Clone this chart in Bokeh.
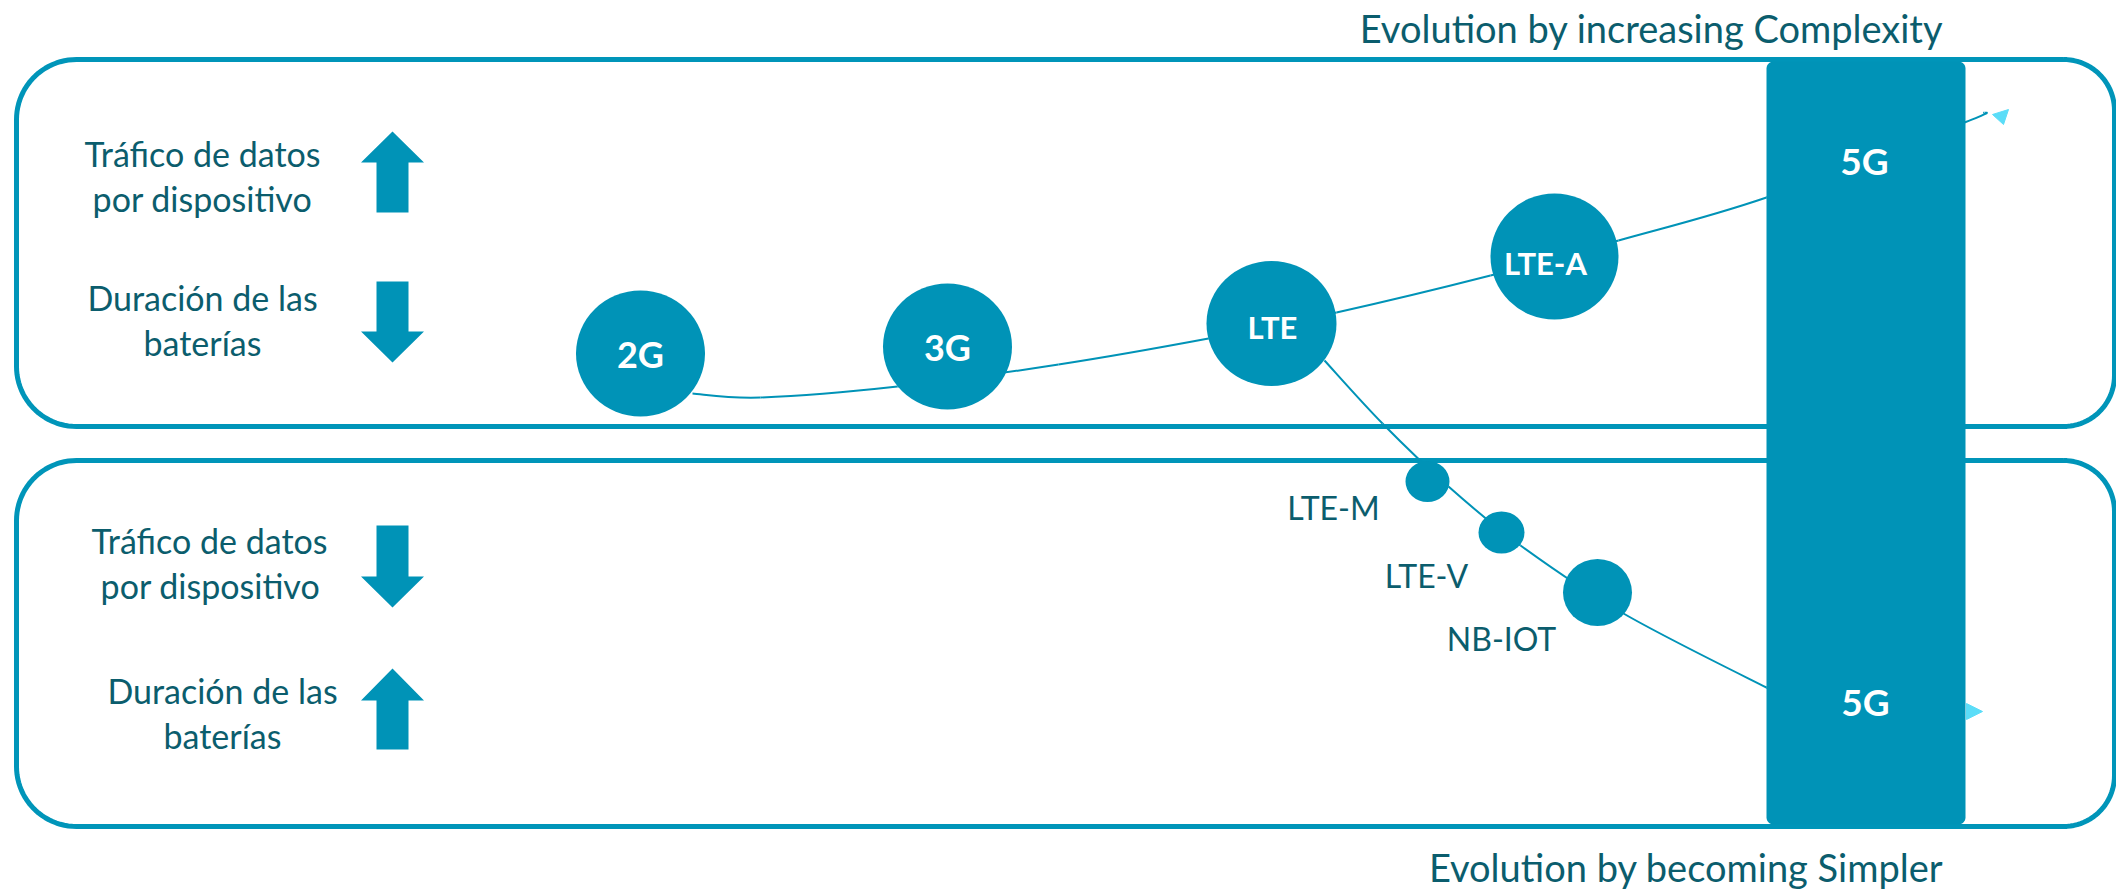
import numpy as np
from bokeh.plotting import figure
from bokeh.models import Range1d
from bokeh.embed import file_html
from bokeh.resources import INLINE
from bokeh.core.properties import value

# ---------------- data ----------------
# main evolution path (upper panel)
main_labels = ["2G", "3G", "LTE", "LTE-A"]
main_x = [640, 947, 1271, 1554]
main_y = [353, 346, 323, 256]
main_w = [129, 129, 130, 128]
main_h = [126, 126, 125, 126]
main_font = ["36px", "36px", "31px", "31px"]
main_text_x = [640, 947, 1272, 1545]
main_text_y = [353, 346, 326, 262]

# IoT path (lower panel)
iot_labels = ["LTE-M", "LTE-V", "NB-IOT"]
iot_x = [1427, 1501, 1597]
iot_y = [481, 532, 592]
iot_w = [44, 46, 69]
iot_h = [41, 42, 67]
iot_label_x = [1333, 1426, 1501]
iot_label_y = [507, 575, 638]

# connecting curves
upper_path_x = [692, 760, 897, 1058, 1208, 1336, 1490, 1618, 1766, 1964, 1984]
upper_path_y = [393, 397, 386, 364, 338, 312, 275, 240, 197, 122, 112]
lower_path_x = [1324, 1382, 1448, 1520, 1623, 1766, 1800]
lower_path_y = [360, 423, 486, 545, 613, 687, 702]

# arrowheads at the end of the curves
head_xs = [[1992, 2008, 2003], [1966, 1982, 1966]]
head_ys = [[114, 109, 124], [703, 711, 719]]

# side descriptions
side_lines = ["Tráfico de datos", "por dispositivo", "Duración de las", "baterías",
              "Tráfico de datos", "por dispositivo", "Duración de las", "baterías"]
side_x = [202, 202, 202, 202, 209, 210, 222, 222]
side_y = [153, 198, 297, 342, 540, 585, 690, 735]

# block arrows: direction, tip, head base, shaft end
arrow_dir = ["up", "down", "down", "up"]
arrow_tip = [131, 362, 607, 668]
arrow_base = [162, 331, 576, 700]
arrow_end = [212, 281, 525, 749]
arrow_cx = 392

# 5G bar
bar_left, bar_right, bar_top, bar_bottom = 1766, 1965, 61, 824
bar_labels = ["5G", "5G"]
bar_label_x = [1864, 1865]
bar_label_y = [160, 701]

# panels
panel_top = [59, 460]
panel_bottom = [426, 826]
panel_left, panel_right = 16, 2114

titles = ["Evolution by increasing Complexity", "Evolution by becoming Simpler"]
title_x = [1943, 1943]
title_y = [27, 866]

# ---------------- style ----------------
BLUE = "#0093B7"
BORDER = "#0095B9"
DARK = "#0B5D6D"
CYAN = "#5BDDF8"
FONT = "Lato"


def rounded_rect(x0, y0, x1, y1, rl, rr, n=24):
    xs, ys = [], []
    def arc(cx, cy, r, t0, t1):
        t = np.linspace(t0, t1, n)
        xs.extend(list(cx + r * np.cos(t)))
        ys.extend(list(cy + r * np.sin(t)))
    arc(x1 - rr, y0 + rr, rr, -np.pi / 2, 0)
    arc(x1 - rr, y1 - rr, rr, 0, np.pi / 2)
    arc(x0 + rl, y1 - rl, rl, np.pi / 2, np.pi)
    arc(x0 + rl, y0 + rl, rl, np.pi, 1.5 * np.pi)
    xs.append(xs[0]); ys.append(ys[0])
    return xs, ys


def smooth_segments(px, py):
    """Bezier control points (Catmull-Rom style) through the read points."""
    px = np.asarray(px, float); py = np.asarray(py, float)
    n = len(px)
    x0, y0, x1, y1, cx0, cy0, cx1, cy1 = ([] for _ in range(8))
    for i in range(n - 1):
        a = max(i - 1, 0); d = min(i + 2, n - 1)
        x0.append(px[i]); y0.append(py[i]); x1.append(px[i + 1]); y1.append(py[i + 1])
        cx0.append(px[i] + (px[i + 1] - px[a]) / 6); cy0.append(py[i] + (py[i + 1] - py[a]) / 6)
        cx1.append(px[i + 1] - (px[d] - px[i]) / 6); cy1.append(py[i + 1] - (py[d] - py[i]) / 6)
    return dict(x0=x0, y0=y0, x1=x1, y1=y1, cx0=cx0, cy0=cy0, cx1=cx1, cy1=cy1)


W, H = 2116, 889
p = figure(width=W, height=H, output_backend="svg", toolbar_location=None,
           x_range=Range1d(0, W), y_range=Range1d(H, 0),
           min_border=0, background_fill_color="white", border_fill_color="white")
p.axis.visible = False
p.grid.visible = False
p.outline_line_color = None

# panels
for t, b in zip(panel_top, panel_bottom):
    xs, ys = rounded_rect(panel_left, t, panel_right, b, 60, 51)
    p.line(xs, ys, line_color=BORDER, line_width=5, line_join="round")

# curves
for px, py in ((upper_path_x, upper_path_y), (lower_path_x, lower_path_y)):
    s = smooth_segments(px, py)
    p.bezier(x0=s["x0"], y0=s["y0"], x1=s["x1"], y1=s["y1"],
             cx0=s["cx0"], cy0=s["cy0"], cx1=s["cx1"], cy1=s["cy1"],
             line_color=BLUE, line_width=2)

# arrowheads
p.patches(head_xs, head_ys, fill_color=CYAN, line_color=CYAN, line_width=1)

# 5G bar
bx, by = rounded_rect(bar_left, bar_top, bar_right, bar_bottom, 7, 7, n=8)
p.patch(bx, by, fill_color=BLUE, line_color=None)

# circles
p.ellipse(x=main_x, y=main_y, width=main_w, height=main_h, fill_color=BLUE, line_color=None)
p.ellipse(x=iot_x, y=iot_y, width=iot_w, height=iot_h, fill_color=BLUE, line_color=None)

# block arrows
axs, ays = [], []
for d, tip, base, end in zip(arrow_dir, arrow_tip, arrow_base, arrow_end):
    hw, sw = 31.5, 16
    axs.append([arrow_cx, arrow_cx + hw, arrow_cx + sw, arrow_cx + sw,
                arrow_cx - sw, arrow_cx - sw, arrow_cx - hw])
    ays.append([tip, base, base, end, end, base, base])
p.patches(axs, ays, fill_color=BLUE, line_color=None)

# texts
for lab, x, y, fs in zip(main_labels, main_text_x, main_text_y, main_font):
    p.text(x=[x], y=[y], text=[lab], text_font=value(FONT), text_font_style="bold",
           text_font_size=value(fs), text_color="white",
           text_align="center", text_baseline="middle")
p.text(x=bar_label_x, y=bar_label_y, text=bar_labels, text_font=value(FONT),
       text_font_style="bold", text_font_size=value("37px"), text_color="white",
       text_align="center", text_baseline="middle")
p.text(x=iot_label_x, y=iot_label_y, text=iot_labels, text_font=value(FONT),
       text_font_size=value("32px"), text_color=DARK,
       text_align="center", text_baseline="middle")
p.text(x=side_x, y=side_y, text=side_lines, text_font=value(FONT),
       text_font_size=value("34px"), text_color=DARK,
       text_align="center", text_baseline="middle")
p.text(x=title_x, y=title_y, text=titles, text_font=value(FONT),
       text_font_size=value("38px"), text_color=DARK,
       text_align="right", text_baseline="middle")

open("out.html", "w").write(file_html(p, INLINE))
